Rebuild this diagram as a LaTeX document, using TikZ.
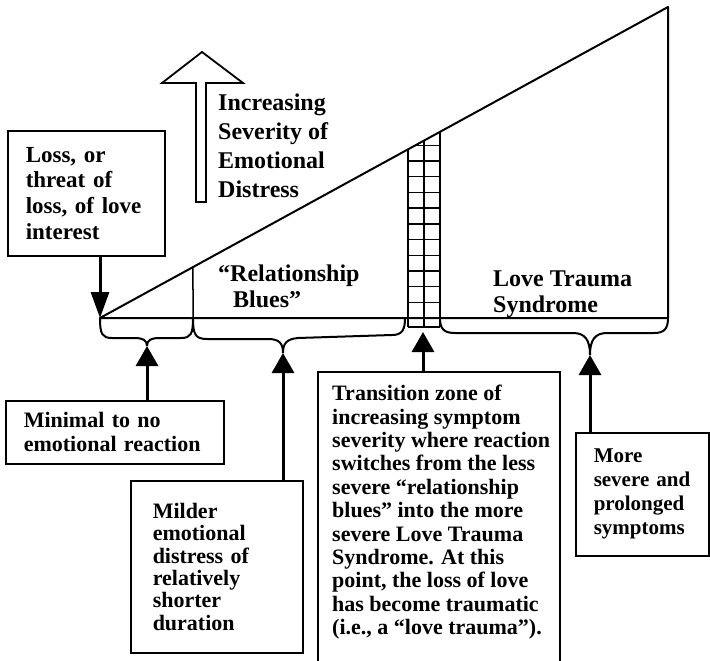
\documentclass[tikz,border=0pt]{standalone}
\usepackage{fontspec}
\setmainfont{Liberation Serif}
\usetikzlibrary{arrows.meta,calc}

\begin{document}
\begin{tikzpicture}[x=1pt,y=-1pt,
  base/.style={line width=2pt, line join=round},
  gridline/.style={line width=1.4pt},
  boxnode/.style={draw, line width=1.5pt, anchor=north west, align=left,
    inner ysep=0pt, font=\bfseries\fontsize{22}{24}\selectfont},
  lbl/.style={anchor=north west, align=left, inner sep=0pt,
    font=\bfseries\fontsize{24}{25.5}\selectfont},
  pointer/.style={line width=3pt, -{Triangle[length=20pt,width=22pt]}}
]
\useasboundingbox (0,0) rectangle (710,661);

% main wedge: apex, top corner and baseline
\coordinate (apex) at (100,318);
\coordinate (top) at (668,7);
\coordinate (corner) at (668,318);
\draw[base] (apex) -- (top) -- (corner) -- cycle;

% divider between "no reaction" and "relationship blues"
\coordinate (divB) at (193,318);
\coordinate (divT) at ($(apex)!{93/568}!(top)$);
\draw[line width=1.5pt] (divB) -- (divT);

% hatched transition column
\begin{scope}
  \clip (apex) -- (top) -- (668,340) -- (100,340) -- cycle;
  \foreach \x in {408,424,440}
    \draw[gridline] (\x,327) -- (\x,100);
  \draw[line width=2.2pt] (408,327) -- (408,100) (440,327) -- (440,100);
  \foreach \k in {0,...,12}
    \draw[gridline] (408,318-\k*15.7) -- (440,318-\k*15.7);
  \draw[gridline] (408,327) -- (440,327);
\end{scope}

% braces under the baseline
\coordinate (tip1) at (147,346);
\coordinate (tip2) at (283,353);
\coordinate (tip3) at (423,332);
\coordinate (tip4) at (590,355);
\draw[base] (100,318) .. controls (100,334) and (102,338) .. (112,338) -- (134,338)
  .. controls (143,338) and (147,340) .. (tip1);
\draw[base] (193,318) .. controls (193,334) and (191,338) .. (181,338) -- (160,338)
  .. controls (151,338) and (147,340) .. (tip1);
\draw[base] (193,318) .. controls (193,334) and (195,339) .. (207,339) -- (268,339)
  .. controls (279,339) and (283,343) .. (tip2);
\draw[base] (405,318) .. controls (405,330) and (402,335) .. (392,335) -- (298,338)
  .. controls (287,339) and (283,343) .. (tip2);
\draw[base] (440,318) .. controls (440,329) and (444,333) .. (455,333) -- (573,333)
  .. controls (585,333) and (590,340) .. (tip4);
\draw[base] (668,318) .. controls (668,329) and (664,333) .. (654,333) -- (607,333)
  .. controls (595,333) and (590,340) .. (tip4);

% hollow arrow for rising severity
\draw[line width=1.8pt, line join=miter] (202,52) -- (243,83) -- (206,83) -- (206,202)
  -- (196,202) -- (196,83) -- (162,83) -- cycle;
\node[lbl, font=\bfseries\fontsize{24}{29}\selectfont] (sev) at (218,94)
  {Increasing\\Severity of\\Emotional\\Distress};

% region labels inside the wedge
\node[lbl] (blues) at (218,265) {“Relationship\\\hspace*{15pt}Blues”};
\node[lbl] (lts) at (493,271) {Love Trauma\\Syndrome};

% boxes
\node[boxnode, font=\bfseries\fontsize{23}{25.7}\selectfont,
  minimum width=157pt, minimum height=125pt, text width=121pt, inner xsep=18pt]
  (loss) at (7,130) {Loss, or\\threat of\\loss, of love\\interest};
\node[boxnode, minimum width=218pt, minimum height=63pt, text width=182pt,
  inner xsep=18pt] (minimal) at (5,400) {Minimal to no\\emotional reaction};
\node[boxnode, font=\bfseries\fontsize{22}{22.4}\selectfont,
  minimum width=172pt, minimum height=172pt, text width=128pt, inner xsep=22pt]
  (milder) at (130,480)
  {Milder\\emotional\\distress of\\relatively\\shorter\\duration};
\node[boxnode, font=\bfseries\fontsize{21}{24}\selectfont,
  minimum width=133pt, minimum height=123pt, text width=105pt, inner xsep=14pt]
  (more) at (575,432) {\hspace*{4pt}More\\\hspace*{4pt}severe and\\\hspace*{4pt}prolonged\\\hspace*{4pt}symptoms};

% transition box runs past the lower edge
\coordinate (trNW) at (318,372);
\coordinate (trNE) at (560,372);
\draw[line width=1.5pt] (318,661) -- (trNW) -- (trNE) -- (560,661);
\node[lbl, font=\bfseries\fontsize{22}{23.4}\selectfont] (trans) at (332,385)
  {Transition zone of\\increasing symptom\\severity where reaction\\switches from the less\\severe “relationship\\blues” into the more\\severe Love Trauma\\Syndrome. At this\\point, the loss of love\\has become traumatic\\(i.e., a “love trauma”).};

% pointers
\draw[pointer, -{Triangle[length=26pt,width=18pt]}] (loss.south -| apex) -- (apex);
\draw[pointer] (minimal.north -| tip1) -- (tip1);
\draw[pointer] (milder.north -| tip2) -- (tip2);
\draw[pointer] (trNW -| tip3) -- (tip3);
\draw[pointer] (more.north -| tip4) -- (tip4);
\end{tikzpicture}
\end{document}
